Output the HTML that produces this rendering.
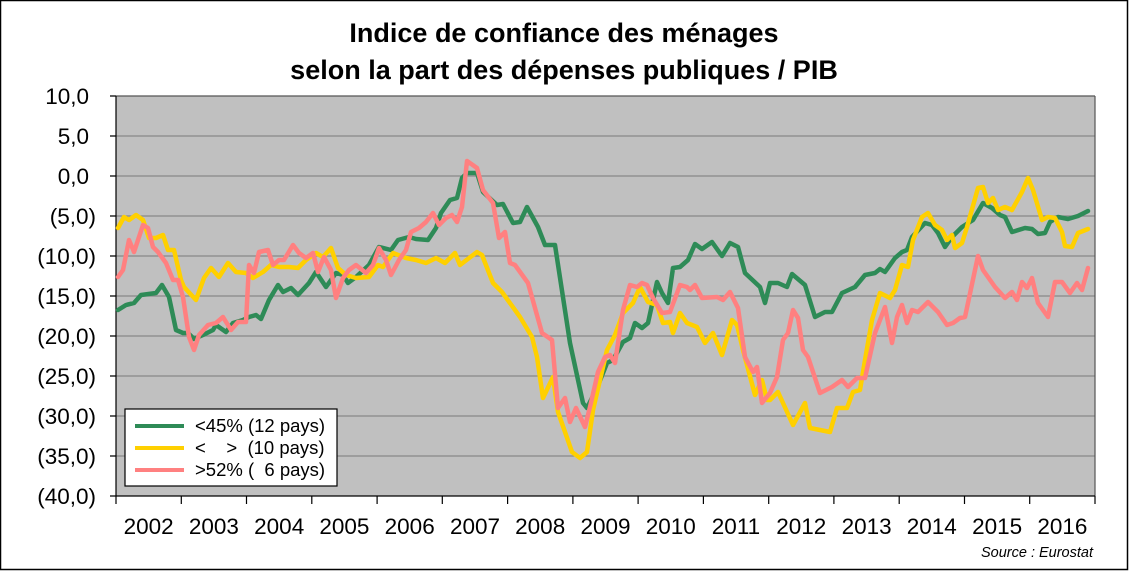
<!DOCTYPE html>
<html><head><meta charset="utf-8"><style>
html,body{margin:0;padding:0;background:#fff;}
svg{display:block;font-family:"Liberation Sans",Arial,sans-serif;}
</style></head><body>
<svg width="1129" height="571" viewBox="0 0 1129 571" xmlns="http://www.w3.org/2000/svg">
<rect x="0.5" y="0.5" width="1127" height="569" fill="#fff" stroke="#000" stroke-width="1.5"/>
<text x="564" y="42" font-size="27" font-weight="bold" text-anchor="middle">Indice de confiance des ménages</text>
<text x="564" y="79" font-size="27" font-weight="bold" text-anchor="middle">selon la part des dépenses publiques / PIB</text>
<rect x="116" y="96" width="979" height="400" fill="#c0c0c0"/>
<g stroke="#888" stroke-width="1.2">
<line x1="116" y1="136" x2="1095" y2="136"/><line x1="116" y1="176" x2="1095" y2="176"/>
<line x1="116" y1="216" x2="1095" y2="216"/><line x1="116" y1="256" x2="1095" y2="256"/>
<line x1="116" y1="296" x2="1095" y2="296"/><line x1="116" y1="336" x2="1095" y2="336"/>
<line x1="116" y1="376" x2="1095" y2="376"/><line x1="116" y1="416" x2="1095" y2="416"/>
<line x1="116" y1="456" x2="1095" y2="456"/>
</g>
<g stroke="#000" stroke-width="1.2" fill="none">
<line x1="116" y1="96" x2="1095" y2="96" stroke="#555"/>
<line x1="1095" y1="96" x2="1095" y2="496" stroke="#555"/>
<line x1="116" y1="96" x2="116" y2="496"/>
<line x1="116" y1="496" x2="1095" y2="496"/>
<path d="M110 96H116M110 136H116M110 176H116M110 216H116M110 256H116M110 296H116M110 336H116M110 376H116M110 416H116M110 456H116M110 496H116"/>
<path d="M116 496V504M181.3 496V504M246.5 496V504M311.8 496V504M377.1 496V504M442.3 496V504M507.6 496V504M572.9 496V504M638.1 496V504M703.4 496V504M768.7 496V504M833.9 496V504M899.2 496V504M964.5 496V504M1029.7 496V504M1095 496V504"/>
</g>
<g font-size="22.5" text-anchor="end">
<text x="89" y="104">10,0</text><text x="89" y="144">5,0</text><text x="89" y="184">0,0</text>
<text x="96" y="224">(5,0)</text><text x="96" y="264">(10,0)</text><text x="96" y="304">(15,0)</text>
<text x="96" y="344">(20,0)</text><text x="96" y="384">(25,0)</text><text x="96" y="424">(30,0)</text>
<text x="96" y="464">(35,0)</text><text x="96" y="504">(40,0)</text>
</g>
<g font-size="22.5" text-anchor="middle">
<text x="148.6" y="534">2002</text><text x="213.9" y="534">2003</text><text x="279.2" y="534">2004</text>
<text x="344.4" y="534">2005</text><text x="409.7" y="534">2006</text><text x="475" y="534">2007</text>
<text x="540.2" y="534">2008</text><text x="605.5" y="534">2009</text><text x="670.8" y="534">2010</text>
<text x="736" y="534">2011</text><text x="801.3" y="534">2012</text><text x="866.6" y="534">2013</text>
<text x="931.8" y="534">2014</text><text x="997.1" y="534">2015</text><text x="1062.4" y="534">2016</text>
</g>
<text x="1093" y="557" font-size="14.5" font-style="italic" text-anchor="end">Source : Eurostat</text>
<g fill="none" stroke-width="4.5" stroke-linejoin="round" stroke-linecap="round">
<polyline stroke="#2e8b57" points="118,310 126,305 134,303 141,295 156,293 162,285 169,297 176,330 183,333 188,333 194,339 203,335 213,330 216,325 226,332 233,323 243,320 249,317 256,315 261,319 269,300 278,285 283,292 291,288 298,295 309,283 316,272 326,287 336,273 343,275 348,283 356,277 369,265 379,247 391,250 398,240 409,237 416,239 428,240 436,228 441,213 450,200 457,198 462,178 467,173 477,173 483,192 497,205 503,204 513,223 520,222 527,207 538,227 545,245 555,245 570,343 583,403 587,408 597,388 607,363 613,360 623,342 630,338 635,323 642,328 648,323 657,282 662,293 668,303 673,268 680,267 688,260 695,244 702,249 712,242 722,256 730,243 738,247 745,273 760,287 765,303 770,283 778,283 787,287 792,274 805,285 815,317 825,312 832,312 842,293 855,287 865,275 875,273 880,269 885,272 895,258 902,252 907,250 912,237 925,223 932,225 938,233 945,247 952,237 962,227 973,220 983,203 992,208 1000,215 1005,217 1012,232 1025,228 1032,229 1038,234 1045,233 1050,222 1058,217 1068,219 1078,216 1088,211"/>
<polyline stroke="#ffd000" points="118,228 124,217 129,220 136,215 143,220 149,238 156,238 163,235 168,250 174,250 181,280 184,287 196,300 204,278 211,268 219,277 228,263 236,272 246,273 253,278 263,272 271,265 279,267 289,267 298,268 306,260 316,253 323,257 331,248 338,268 346,275 356,278 369,277 378,265 383,267 393,253 406,258 416,260 426,263 436,258 445,263 455,253 460,265 477,252 482,255 493,283 502,292 520,317 532,337 537,357 543,398 553,377 558,412 572,452 580,458 587,452 593,410 607,350 615,335 623,313 633,303 640,287 648,302 657,305 663,323 670,322 673,333 680,313 687,323 697,327 705,343 713,333 722,355 732,320 737,325 743,350 755,395 762,380 767,400 770,400 778,392 793,425 805,403 810,428 830,432 837,408 847,408 853,392 860,390 865,360 872,320 880,293 890,298 895,290 902,265 908,267 913,240 922,217 928,213 935,225 942,230 947,240 952,235 955,248 962,243 967,227 978,188 983,187 988,203 993,198 998,210 1005,207 1012,210 1022,192 1028,178 1033,190 1042,220 1048,217 1055,218 1062,232 1065,246 1072,247 1078,233 1088,229"/>
<polyline stroke="#ff8080" points="118,277 123,270 129,240 134,252 143,225 148,228 153,247 158,252 166,263 173,280 178,280 183,297 189,337 194,350 199,335 208,325 216,323 223,317 231,330 238,322 246,322 249,265 254,273 259,252 268,250 273,265 279,260 284,260 293,245 299,253 306,258 313,253 318,272 324,257 331,270 336,298 343,278 349,270 356,265 366,273 373,265 379,248 386,260 391,275 399,260 406,250 411,232 419,228 426,222 433,213 439,225 446,218 452,215 457,222 462,207 467,161 477,168 483,190 493,203 499,238 505,232 510,263 515,265 528,283 542,333 552,340 558,408 565,398 570,422 576,408 585,427 590,407 598,372 605,357 610,355 615,363 623,310 630,285 637,287 642,283 647,285 653,298 662,313 670,312 680,285 687,287 690,290 695,285 702,298 717,297 723,300 730,292 738,308 745,357 753,372 757,367 762,403 770,393 777,377 783,340 788,333 793,310 798,318 803,350 808,357 820,393 832,387 842,380 848,387 857,378 865,378 875,333 885,307 892,343 897,317 902,305 907,323 912,310 918,312 928,302 938,312 947,325 953,323 960,318 965,317 978,256 983,270 995,287 1005,298 1012,292 1017,300 1022,282 1027,288 1032,278 1038,303 1048,317 1055,282 1062,282 1070,293 1077,283 1082,290 1088,268"/>
</g>
<rect x="125" y="409" width="212" height="77" fill="#fff" stroke="#000" stroke-width="1.2"/>
<g stroke-width="4">
<line x1="135" y1="426" x2="184" y2="426" stroke="#2e8b57"/>
<line x1="135" y1="448" x2="184" y2="448" stroke="#ffd000"/>
<line x1="135" y1="470" x2="184" y2="470" stroke="#ff8080"/>
</g>
<g font-size="18.5">
<text x="195" y="432">&lt;45% (12 pays)</text>
<text x="195" y="454" xml:space="preserve">&lt;    &gt;  (10 pays)</text>
<text x="195" y="476" xml:space="preserve">&gt;52% (  6 pays)</text>
</g>
</svg>
</body></html>
